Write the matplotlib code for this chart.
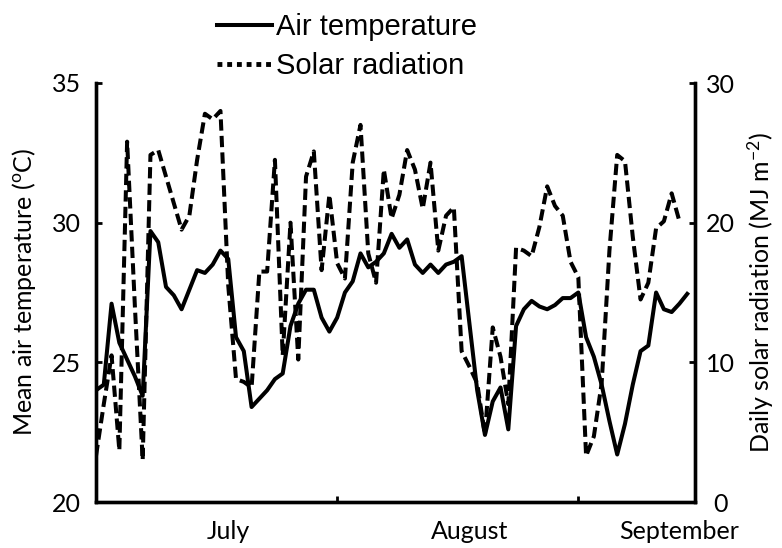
import numpy as np
import matplotlib.pyplot as plt
from matplotlib.lines import Line2D

# ----------------------------
# Data, one value per day from July 1
# ----------------------------
air_temp = [24.0, 24.2, 27.1, 25.7, 25.1, 24.5, 23.8, 29.7, 29.3, 27.7,
            27.4, 26.9, 27.6, 28.3, 28.2, 28.5, 29.0, 28.7, 25.9, 25.4,
            23.4, 23.7, 24.0, 24.4, 24.6, 26.3, 27.1, 27.6, 27.6, 26.6,
            26.1, 26.6, 27.5, 27.9, 28.9, 28.4, 28.6, 28.9, 29.6, 29.1,
            29.4, 28.5, 28.2, 28.5, 28.2, 28.5, 28.6, 28.8, 26.4, 24.0,
            22.4, 23.6, 24.1, 22.6, 26.3, 26.9, 27.2, 27.0, 26.9, 27.05,
            27.3, 27.3, 27.5, 25.9, 25.2, 24.2, 22.9, 21.7, 22.8, 24.2,
            25.4, 25.6, 27.5, 26.9, 26.8, 27.1, 27.45]

solar_rad = [3.3, 7.0, 10.5, 3.7, 25.8, 14.0, 3.0, 24.85, 25.2, 23.3,
             21.4, 19.5, 20.5, 24.5, 27.8, 27.4, 28.0, 15.5, 8.8, 8.6,
             8.2, 16.5, 16.5, 24.5, 10.5, 20.0, 10.2, 23.3, 25.1, 16.6,
             22.0, 17.1, 16.0, 24.3, 27.0, 17.8, 15.7, 23.8, 20.3, 22.0,
             25.2, 23.8, 21.0, 24.3, 18.0, 20.5, 21.1, 10.8, 9.7, 8.5,
             4.8, 12.5, 10.4, 7.0, 18.2, 18.0, 17.6, 19.7, 22.6, 21.2,
             20.5, 17.2, 16.1, 3.3, 4.7, 8.5, 18.0, 24.85, 24.4, 19.0,
             14.5, 15.7, 19.6, 20.1, 22.1, 20.1]

month_names = ['July', 'August', 'September']
month_label_pos = [17, 48, 75]
month_ticks = [0, 31, 62, 77]

temp_ticks = [20, 25, 30, 35]
rad_ticks = [0, 10, 20, 30]

days_t = np.arange(len(air_temp))
days_r = np.arange(len(solar_rad))

# ----------------------------
# Fonts
# ----------------------------
plt.rcParams['font.family'] = ['Lato', 'DejaVu Sans']
plt.rcParams['mathtext.fontset'] = 'custom'
plt.rcParams['mathtext.rm'] = 'Lato'
plt.rcParams['mathtext.it'] = 'Lato:italic'
plt.rcParams['mathtext.default'] = 'regular'

# ----------------------------
# Figure
# ----------------------------
fig = plt.figure(figsize=(7.82, 5.48), dpi=100)
ax = fig.add_axes([96/782, 1 - 502/548, (695-96)/782, (502-83)/548])
ax2 = ax.twinx()

ax.plot(days_t, air_temp, color='black', lw=2.9, solid_joinstyle='round')
ax2.plot(days_r, solar_rad, color='black', lw=2.9,
         linestyle=(0, (2.8, 1.3)), dash_capstyle='butt')

ax.set_xlim(0, 77)
ax.set_ylim(20, 35)
ax2.set_ylim(0, 30)

ax.set_yticks(temp_ticks)
ax2.set_yticks(rad_ticks)
ax.set_xticks(month_ticks)
ax.set_xticklabels([])
ax.set_xticks(month_label_pos, minor=True)
ax.set_xticklabels(month_names, minor=True)

for a in (ax, ax2):
    a.spines['top'].set_visible(False)
    for s in ('left', 'right', 'bottom'):
        a.spines[s].set_linewidth(2.4)

ax.tick_params(axis='y', direction='in', length=4, width=2, labelsize=18, pad=11)
ax2.tick_params(axis='y', direction='in', length=4, width=2, labelsize=18, pad=18)
for lab in ax2.get_yticklabels():
    lab.set_ha('center')
ax.tick_params(axis='x', which='major', direction='in', length=4, width=2)
ax.tick_params(axis='x', which='minor', length=0, labelsize=18, pad=13)

ax.set_ylabel('Mean air temperature ($^{o}$C)', fontsize=18)
ax2.set_ylabel('Daily solar radiation (MJ m$^{-2}$)', fontsize=18)
ax.yaxis.set_label_coords(-0.097, 0.5)
ax2.yaxis.set_label_coords(1.085, 0.5)

# legend above the plot
handles = [Line2D([], [], color='black', lw=2.9),
           Line2D([], [], color='black', lw=3.5, linestyle=(0, (1, 1)))]
fig.legend(handles, ['Air temperature', 'Solar radiation'],
           loc='upper left', bbox_to_anchor=(217/782, 1 - 13/548),
           frameon=False, borderpad=0, borderaxespad=0,
           handlelength=1.9, handletextpad=0.12, labelspacing=0.38,
           prop={'family': ['Liberation Sans', 'DejaVu Sans'], 'size': 21})

fig.savefig('out.png', dpi=100)
